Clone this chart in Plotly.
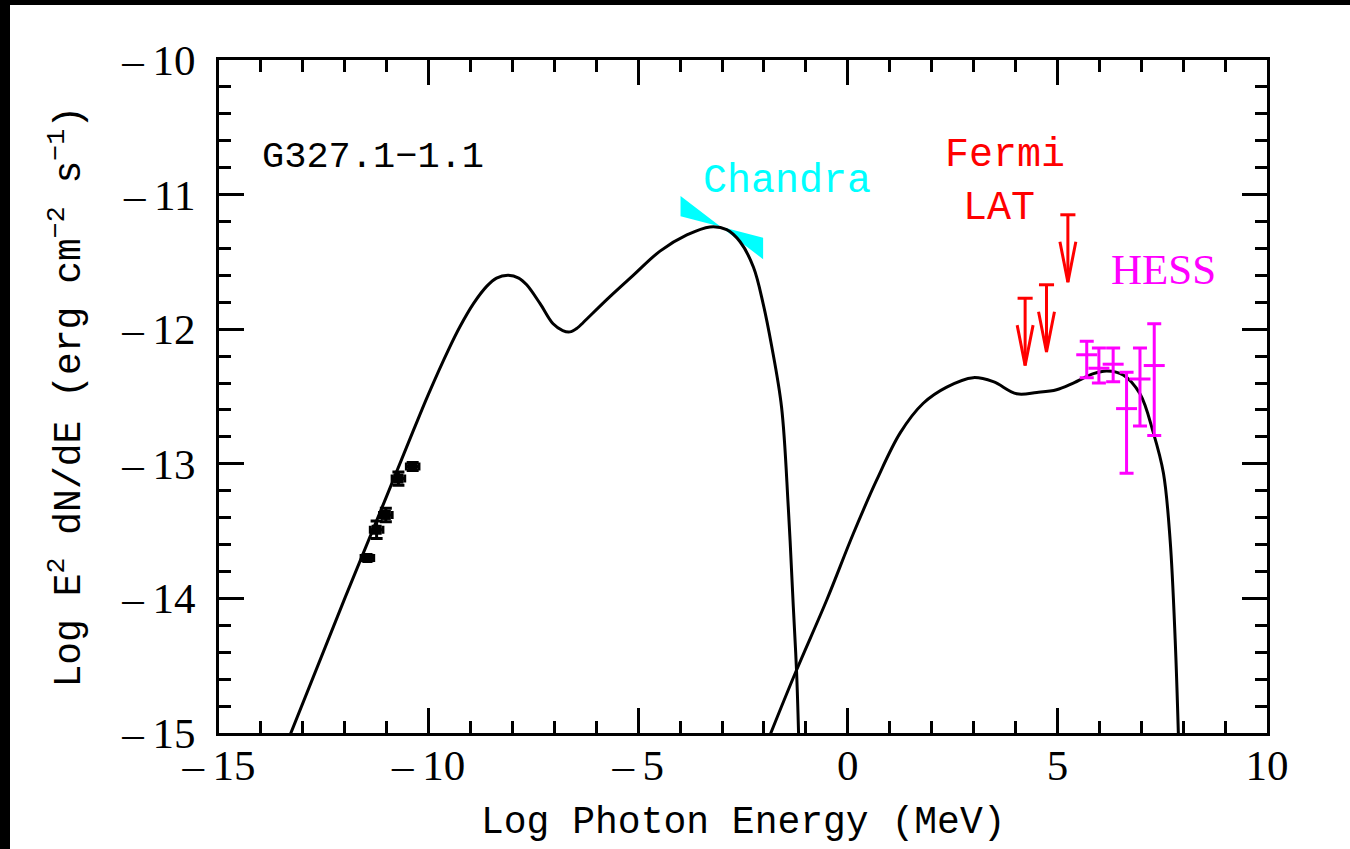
import numpy as np
import plotly.graph_objects as go

# ---- model curves ----
sync_model_x = [-13.35, -12.0, -11.0, -10.36, -10.0, -9.53, -9.25, -8.93, -8.61, -8.38, -8.10, -7.85,
                -7.66, -7.34, -7.03, -6.80, -6.63, -6.45, -6.31, -5.75, -5.12, -4.48, -3.84, -3.29,
                -2.89, -2.57, -2.25, -2.02, -1.82, -1.58, -1.42, -1.30, -1.22, -1.17]
sync_model_y = [-15.05, -14.0, -13.24, -12.75, -12.48, -12.155, -11.98, -11.81, -11.68, -11.62, -11.60, -11.62,
                -11.67, -11.81, -11.96, -12.01, -12.02, -11.99, -11.95, -11.78, -11.60, -11.42, -11.30, -11.24,
                -11.26, -11.35, -11.54, -11.81, -12.12, -12.58, -13.32, -14.06, -14.56, -15.05]

ic_model_x = [-1.90, -1.26, -0.50, 0.13, 0.69, 1.25, 1.80, 2.36, 2.99, 3.47, 4.03, 4.51, 4.98,
              5.38, 5.86, 6.18, 6.57, 6.97, 7.29, 7.53, 7.69, 7.81, 7.89]
ic_model_y = [-15.05, -14.56, -14.01, -13.52, -13.12, -12.77, -12.55, -12.43, -12.36, -12.39, -12.48,
              -12.47, -12.45, -12.40, -12.33, -12.31, -12.34, -12.48, -12.77, -13.07, -13.57, -14.31, -15.05]

# ---- radio data points ----
radio_x = [-11.46, -11.24, -11.02, -10.72, -10.38]
radio_y = [-13.70, -13.49, -13.38, -13.11, -13.02]
radio_err = [0.02, 0.065, 0.05, 0.05, 0.03]

# ---- Chandra bowtie ----
chandra_x = [-3.99, -2.02]
chandra_lineA = [-11.01, -11.48]
chandra_lineB = [-11.16, -11.32]

# ---- Fermi LAT upper limits ----
fermi_x = [4.23, 4.74, 5.25]
fermi_ul = [-11.77, -11.67, -11.15]

# ---- HESS points ----
hess_x = [5.70, 5.99, 6.33, 6.65, 6.97, 7.31]
hess_y = [-12.19, -12.29, -12.26, -12.59, -12.37, -12.27]
hess_top = [-12.09, -12.14, -12.14, -12.32, -12.14, -11.96]
hess_bot = [-12.36, -12.40, -12.39, -13.07, -12.72, -12.79]

x_ticks = [-15, -10, -5, 0, 5, 10]
y_ticks = [-15, -14, -13, -12, -11, -10]


def lab(v):
    return ("\u2013\u2009" + str(abs(v))) if v < 0 else str(v)


fig = go.Figure()

# bowtie
bx = [chandra_x[0], chandra_x[1], chandra_x[1], chandra_x[0], chandra_x[0]]
by = [chandra_lineA[0], chandra_lineA[1], chandra_lineB[1], chandra_lineB[0], chandra_lineA[0]]
fig.add_trace(go.Scatter(x=bx, y=by, mode="lines", fill="toself", fillcolor="#00FFFF",
                         line=dict(width=0, color="#00FFFF"), hoverinfo="skip"))

# model curves
fig.add_trace(go.Scatter(x=sync_model_x, y=sync_model_y, mode="lines",
                         line=dict(color="black", width=3, shape="spline", smoothing=1.0)))
fig.add_trace(go.Scatter(x=ic_model_x, y=ic_model_y, mode="lines",
                         line=dict(color="black", width=3, shape="spline", smoothing=1.0)))

# radio points
fig.add_trace(go.Scatter(x=radio_x, y=radio_y, mode="markers",
                         marker=dict(symbol="square", size=10, color="black"),
                         error_x=dict(type="constant", value=0.15, color="black", thickness=3, width=4),
                         error_y=dict(type="data", array=radio_err, color="black", thickness=3, width=6)))

# Fermi upper limit arrows
L = 0.5      # arrow length (y units)
cw = 0.18    # cap half width (x)
hw = 0.19    # head half width (x)
hl = 0.30    # head length (y)
ax, ay = [], []
for xv, uv in zip(fermi_x, fermi_ul):
    tip = uv - L
    ax += [xv - cw, xv + cw, None, xv, xv, None, xv - hw, xv, xv + hw, None]
    ay += [uv, uv, None, uv, tip, None, tip + hl, tip, tip + hl, None]
fig.add_trace(go.Scatter(x=ax, y=ay, mode="lines", line=dict(color="#FF0000", width=3)))

# HESS
fig.add_trace(go.Scatter(
    x=hess_x, y=hess_y, mode="markers",
    marker=dict(symbol="line-ew", size=15, color="#FF00FF", line=dict(width=3, color="#FF00FF")),
    error_y=dict(type="data", symmetric=False,
                 array=[t - y for t, y in zip(hess_top, hess_y)],
                 arrayminus=[y - b for y, b in zip(hess_y, hess_bot)],
                 color="#FF00FF", thickness=3, width=7)))

axis_common = dict(
    ticks="inside", ticklen=25, tickwidth=3, tickcolor="black",
    showline=True, linewidth=3, linecolor="black", mirror="allticks",
    showgrid=False, zeroline=False,
    tickfont=dict(family="Liberation Serif", size=43, color="black"),
)

fig.update_layout(
    width=1350, height=849,
    margin=dict(l=219, r=83, t=60, b=116),
    paper_bgcolor="white", plot_bgcolor="white",
    showlegend=False,
    xaxis=dict(range=[-15, 10], tickmode="array", tickvals=x_ticks,
               ticktext=[lab(v) for v in x_ticks], ticklabelstandoff=-8,
               minor=dict(tickmode="array", tickvals=list(range(-15, 11)), ticks="inside",
                          ticklen=12, tickwidth=3, tickcolor="black", showgrid=False),
               **axis_common),
    yaxis=dict(range=[-15, -10], tickmode="array", tickvals=y_ticks,
               ticktext=[lab(v) for v in y_ticks], ticklabelstandoff=12,
               minor=dict(tickmode="array", tickvals=[round(v, 1) for v in np.arange(-15, -9.99, 0.2)],
                          ticks="inside", ticklen=12, tickwidth=3, tickcolor="black", showgrid=False),
               **axis_common),
)

mono = "Liberation Mono"
fig.add_annotation(xref="paper", yref="paper", x=0.5, y=(733 - 822) / 673, showarrow=False,
                   text="Log Photon Energy (MeV)", font=dict(family=mono, size=38, color="black"),
                   xanchor="center", yanchor="middle")
fig.add_annotation(xref="paper", yref="paper", x=(67 - 219) / 1048, y=0.5, showarrow=False,
                   text="Log E<sup>2</sup> dN/dE (erg cm<sup>\u22122</sup> s<sup>\u22121</sup>)",
                   textangle=-90, font=dict(family=mono, size=38, color="black"),
                   xanchor="center", yanchor="middle")
fig.add_annotation(x=-11.33, y=-10.72, text="G327.1\u22121.1", showarrow=False,
                   font=dict(family=mono, size=37, color="black"))
fig.add_annotation(x=-1.45, y=-10.90, text="Chandra", showarrow=False,
                   font=dict(family=mono, size=40, color="#00FFFF"))
fig.add_annotation(x=3.76, y=-10.71, text="Fermi", showarrow=False,
                   font=dict(family=mono, size=40, color="#FF0000"))
fig.add_annotation(x=3.60, y=-11.10, text="LAT", showarrow=False,
                   font=dict(family=mono, size=40, color="#FF0000"))
fig.add_annotation(x=7.52, y=-11.56, text="HESS", showarrow=False,
                   font=dict(family="Liberation Serif", size=43, color="#FF00FF"))

# black bands on top and left edges of the picture
fig.add_shape(type="rect", xref="paper", yref="paper", x0=-0.25, x1=1.2,
              y0=(733 - 5) / 673, y1=1.2, fillcolor="black", line=dict(width=0), layer="above")
fig.add_shape(type="rect", xref="paper", yref="paper", x0=-0.25, x1=(10 - 219) / 1048,
              y0=-0.3, y1=1.2, fillcolor="black", line=dict(width=0), layer="above")

fig.write_html("out.html")
